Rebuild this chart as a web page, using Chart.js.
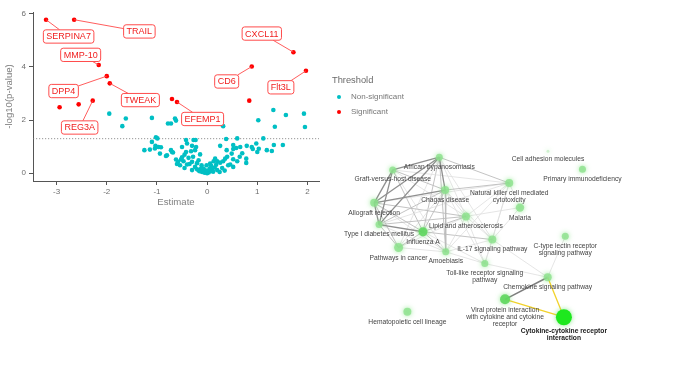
<!DOCTYPE html>
<html><head><meta charset="utf-8">
<script src="https://cdn.jsdelivr.net/npm/chart.js@4.4.1/dist/chart.umd.min.js"></script>
<style>
html,body{margin:0;padding:0;background:#fff;width:680px;height:383px;overflow:hidden;}
canvas{position:absolute;left:0;top:0;}
.leg{position:absolute;font-family:"Liberation Sans",Arial,sans-serif;white-space:nowrap;line-height:1;}
.dot{position:absolute;width:4px;height:4px;border-radius:50%;}
</style></head><body>
<canvas id="net" width="680" height="383"></canvas>
<canvas id="volc" width="330" height="212"></canvas>
<div class="leg" style="left:332px;top:76px;font-size:9.3px;color:#6a6a6a">Threshold</div>
<div class="dot" style="left:337px;top:95px;background:#00BFC4"></div>
<div class="leg" style="left:351px;top:93px;font-size:8px;color:#777">Non-significant</div>
<div class="dot" style="left:337px;top:110px;background:#FF0000"></div>
<div class="leg" style="left:351px;top:107.5px;font-size:8px;color:#777">Significant</div>
<script>
const F='"Liberation Sans", Arial, sans-serif';
// ---------- Volcano plot data ----------
const xTicks=[-3,-2,-1,0,1,2];
const yTicks=[0,2,4,6];
const threshold=1.3;
const sigNames=['SERPINA7','TRAIL','CXCL11','MMP-10','CD6','Flt3L','DPP4','TWEAK','REG3A','','','EFEMP1','',''];
const sigEst=[-3.21,-2.65,1.72,-2.16,0.89,1.97,-2.00,-1.94,-2.28,-2.56,-2.94,-0.60,-0.70,0.84];
const sigLogP=[5.77,5.77,4.55,4.07,4.01,3.85,3.65,3.38,2.73,2.59,2.48,2.68,2.79,2.73];
const labelEst=[-2.76,-1.35,1.09,-2.52,0.39,1.47,-2.86,-1.33,-2.54,null,null,-0.09,null,null];
const labelLogP=[5.14,5.33,5.25,4.45,3.45,3.23,3.09,2.75,1.72,null,null,2.04,null,null];
const nsEst=[-1.95,-1.62,-1.69,-1.10,-0.78,-0.72,-0.64,-0.62,0.32,1.02,1.32,1.57,1.35,1.93,1.95,
-1.02,-0.99,-1.10,-1.25,-1.14,-1.03,-1.04,-0.92,-0.94,-0.82,-0.72,-0.68,-0.62,-0.58,-0.50,
-0.42,-0.23,-0.42,-0.32,-0.30,-0.24,-0.37,-0.47,-0.54,-0.30,-0.17,-0.14,-0.40,-0.24,-0.11,
-0.17,-0.10,-0.05,0.00,0.03,0.06,-0.08,-0.12,0.10,0.12,-0.02,0.05,0.15,-0.15,0.08,-0.20,0.20,
0.26,0.38,0.52,0.60,0.66,0.79,0.78,0.78,0.89,0.98,1.00,1.03,1.12,1.19,1.29,1.33,1.51,
0.39,0.52,0.58,0.91,0.49,0.36,0.32,0.26,0.52,0.46,0.52,0.16,0.13,0.06,-0.01,-0.07,
-0.97,-0.80,-0.70,-0.50,-0.27,-0.22,-0.40,-0.45,-0.35,-0.28,-0.20,0.20,0.30,0.40,0.42,0.60,0.65,
0.35,0.25,-0.30,-0.45,0.70,-0.60,-0.52,0.18];
const nsLogP=[2.24,2.06,1.77,2.08,1.87,1.87,2.06,1.98,1.77,1.99,2.38,2.19,1.75,2.24,1.74,
1.35,1.31,1.18,0.87,0.89,1.03,0.93,0.98,0.74,0.65,0.87,0.78,0.52,0.43,0.60,
1.25,1.25,0.80,0.83,1.03,0.87,0.58,0.45,0.30,0.43,0.49,0.71,0.33,0.24,0.30,
0.11,0.05,0.02,0.00,0.03,0.08,0.12,0.18,0.15,0.06,0.10,0.18,0.22,0.08,0.28,0.15,0.12,
1.03,1.29,1.06,1.31,0.99,1.03,0.55,0.39,0.99,1.12,0.80,0.92,1.31,0.87,0.84,1.06,1.06,
0.87,0.91,0.95,0.91,0.74,0.55,0.45,0.40,0.53,0.33,0.24,0.55,0.45,0.37,0.30,0.18,
0.99,0.68,0.80,0.99,1.25,0.99,1.12,0.70,0.35,0.62,0.38,0.45,0.20,0.62,0.30,0.45,0.62,
0.10,0.05,0.12,0.20,0.75,0.35,0.52,0.32];

const thresholdLine={id:'thr',beforeDatasetsDraw(c){
  const ctx=c.ctx,a=c.chartArea,y=c.scales.y.getPixelForValue(threshold);
  ctx.save();ctx.strokeStyle='#7a7a7a';ctx.lineWidth=0.8;ctx.setLineDash([1.2,1.8]);
  ctx.beginPath();ctx.moveTo(a.left,y);ctx.lineTo(a.right,y);ctx.stroke();ctx.restore();
}};
const volcLabels={id:'vlab',afterDatasetsDraw(c){
  const ctx=c.ctx,xs=c.scales.x,ys=c.scales.y;
  ctx.save();ctx.font='9px '+F;
  const boxes=[];
  sigNames.forEach((n,i)=>{ if(!n) return;
    boxes.push({n,px:xs.getPixelForValue(sigEst[i]),py:ys.getPixelForValue(sigLogP[i]),
      cx:xs.getPixelForValue(labelEst[i]),cy:ys.getPixelForValue(labelLogP[i]),
      w:ctx.measureText(n).width+6,h:13.3});
  });
  ctx.strokeStyle='#ff4b4b';ctx.lineWidth=0.9;
  boxes.forEach(b=>{
    const dx=b.px-b.cx,dy=b.py-b.cy;
    let s=Infinity;
    if(dx!==0) s=Math.min(s,(b.w/2)/Math.abs(dx));
    if(dy!==0) s=Math.min(s,(b.h/2)/Math.abs(dy));
    if(s>=1) return;
    const ex=b.cx+s*dx,ey=b.cy+s*dy;
    if(Math.hypot(b.px-ex,b.py-ey)<5) return;
    ctx.beginPath();ctx.moveTo(b.px,b.py);ctx.lineTo(ex,ey);ctx.stroke();
  });
  boxes.forEach(b=>{
    const x=b.cx-b.w/2,y=b.cy-b.h/2;
    ctx.beginPath();ctx.roundRect(x,y,b.w,b.h,2.5);
    ctx.fillStyle='rgba(255,255,255,0.95)';ctx.fill();
    ctx.strokeStyle='#ff4b4b';ctx.lineWidth=1;ctx.stroke();
    ctx.fillStyle='#f01e1e';ctx.textAlign='center';ctx.textBaseline='middle';
    ctx.fillText(b.n,b.cx,b.cy+0.5);
  });
  ctx.restore();
}};
new Chart(document.getElementById('volc'),{
  type:'scatter',
  data:{datasets:[
    {label:'Significant',data:sigEst.map((x,i)=>({x,y:sigLogP[i]})),backgroundColor:'#FF0000',pointRadius:2.3,borderWidth:0},
    {label:'Non-significant',data:nsEst.map((x,i)=>({x,y:nsLogP[i]})),backgroundColor:'#00BFC4',pointRadius:2.3,borderWidth:0}
  ]},
  options:{responsive:false,animation:false,events:[],
    layout:{padding:{left:0,right:11,top:12,bottom:0}},
    plugins:{legend:{display:false},tooltip:{enabled:false}},
    scales:{
      x:{type:'linear',min:-3.47,max:2.23,
        afterBuildTicks:s=>{s.ticks=xTicks.map(v=>({value:v}));},
        afterFit:s=>{s.height=31;},
        grid:{drawOnChartArea:false,drawTicks:true,tickLength:4,color:'#555'},
        border:{color:'#555',width:1},
        ticks:{color:'#6e6e6e',font:{size:8,family:F},padding:2,maxRotation:0},
        title:{display:true,text:'Estimate',color:'#808080',font:{size:9.6,family:F},padding:{top:2,bottom:4}}},
      y:{type:'linear',min:-0.29,max:6.06,
        afterBuildTicks:s=>{s.ticks=yTicks.map(v=>({value:v}));},
        afterFit:s=>{s.width=33;},
        grid:{drawOnChartArea:false,drawTicks:true,tickLength:4,color:'#555'},
        border:{color:'#555',width:1},
        ticks:{color:'#6e6e6e',font:{size:8,family:F},padding:3},
        title:{display:true,text:'-log10(p-value)',color:'#808080',font:{size:9.6,family:F},padding:{top:4,bottom:0}}}
    }},
  plugins:[thresholdLine,volcLabels]
});

// ---------- Network data ----------
const nodeNames=['African trypanosomiasis','Graft-versus-host disease','Natural killer cell mediated\ncytotoxicity','Chagas disease','Allograft rejection','Malaria','Lipid and atherosclerosis','Type I diabetes mellitus','Influenza A','IL-17 signaling pathway','Pathways in cancer','Amoebiasis','Cell adhesion molecules','Primary immunodeficiency','C-type lectin receptor\nsignaling pathway','Toll-like receptor signaling\npathway','Chemokine signaling pathway','Viral protein interaction\nwith cytokine and cytokine\nreceptor','Cytokine-cytokine receptor\ninteraction','Hematopoietic cell lineage'];
const nodeX=[441.7,394,513.3,447.7,375,524.3,469,380,425,496,400,448.3,553,588.3,570.7,488.3,552.7,509,569.3,409];
const nodeY=[155.7,169,182.7,190,203.3,208.3,217.5,226,233.5,241.7,250,254.5,149.5,168.3,238.3,266.7,281,304,322.7,317];
const nodeSize=[3.5,3.5,4,4,4,4.2,4,3.5,4.5,4,4.5,3.5,1.5,3.5,3.5,3.5,4,5,8,4];
const edgeFrom=[0,0,0,0,1,1,4,1,4,7,3,0,0,1,3,4,7,4,7,7,4,8,8,8,4,7,3,0,6,6,8,10,3,0,2,2,5,5,5,11,3,0,1,11,9,8,6,2,3,15,9,14,16,17,16,1,4,7,10,1,2,0,3];
const edgeTo=  [1,4,7,3,4,7,7,3,3,3,11,11,2,2,2,2,2,8,8,10,10,10,11,6,6,6,6,6,9,11,9,11,9,9,9,6,2,9,6,9,8,8,8,15,15,15,15,15,15,16,16,16,17,18,18,11,11,11,6,6,11,10,10];
const edgeKind=[3,3,3,3,3,3,3,2,3,2,2,2,2,1,2,1,1,2,3,2,2,2,2,2,2,2,1,1,1,1,2,1,1,1,1,1,1,1,1,1,2,2,2,1,1,1,1,1,1,1,1,1,4,5,5,1,1,1,1,1,1,1,1];
const edgeStyle={1:['#dedede',0.8],2:['#bcbcbc',0.9],3:['#8f8f8f',1.3],4:['#7d7d7d',1.5],5:['#f2d22a',1.3]};

const netLabels={id:'nlab',afterDatasetsDraw(c){
  const ctx=c.ctx,xs=c.scales.x,ys=c.scales.y;
  ctx.save();ctx.textAlign='center';ctx.textBaseline='middle';
  nodeNames.forEach((n,i)=>{
    const bold=(i===18);
    ctx.font=(bold?'bold ':'')+'6.7px '+F;
    ctx.fillStyle=bold?'#1a1a1a':'#444';
    const x=xs.getPixelForValue(nodeX[i]);
    let y=ys.getPixelForValue(nodeY[i])+nodeSize[i]+6;
    n.split('\n').forEach(l=>{ctx.fillText(l,x,y);y+=7.1;});
  });
  ctx.restore();
}};
const glow={id:'glow',
  beforeDatasetDraw(c,a){ if(a.index===0){c.ctx.save();c.ctx.shadowColor='rgba(110,225,110,0.8)';c.ctx.shadowBlur=5;} },
  afterDatasetDraw(c,a){ if(a.index===0){c.ctx.restore();} }
};
const nodeColors=nodeSize.map((s,i)=>i===18?'#1ee81e':(i===17||i===8)?'rgba(95,215,95,0.9)':i===12?'rgba(170,230,170,0.5)':'rgba(140,225,140,0.8)');
const netDatasets=[{data:nodeX.map((x,i)=>({x,y:nodeY[i]})),pointRadius:nodeSize,backgroundColor:nodeColors,borderWidth:0}];
edgeFrom.forEach((f,k)=>{
  const st=edgeStyle[edgeKind[k]];
  netDatasets.push({data:[{x:nodeX[f],y:nodeY[f]},{x:nodeX[edgeTo[k]],y:nodeY[edgeTo[k]]}],
    showLine:true,pointRadius:0,borderColor:st[0],borderWidth:st[1],fill:false});
});
new Chart(document.getElementById('net'),{
  type:'scatter',
  data:{datasets:netDatasets},
  options:{responsive:false,animation:false,events:[],
    layout:{padding:0},
    plugins:{legend:{display:false},tooltip:{enabled:false}},
    scales:{x:{type:'linear',min:0,max:680,display:false},
            y:{type:'linear',min:0,max:383,reverse:true,display:false}}},
  plugins:[glow,netLabels]
});
</script>
</body></html>
